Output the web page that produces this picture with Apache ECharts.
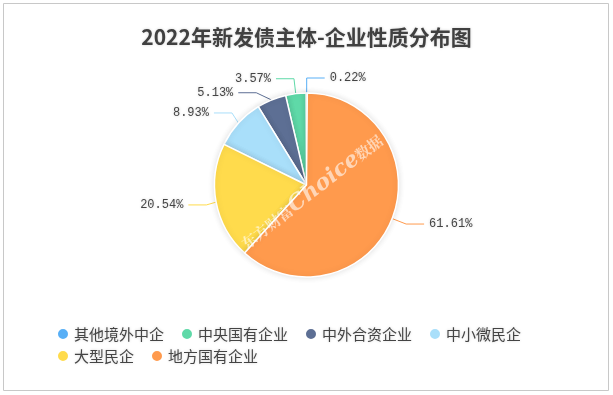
<!DOCTYPE html>
<html>
<head>
<meta charset="utf-8">
<script src="https://cdn.jsdelivr.net/npm/echarts@6/dist/echarts.min.js"></script>
<style>
html,body{margin:0;padding:0;background:#fff;}
#main{width:613px;height:395px;}
</style>
</head>
<body>
<div id="main"></div>
<script>
const titleText = '2022年新发债主体-企业性质分布图';
const categories = ['其他境外中企', '中央国有企业', '中外合资企业', '中小微民企', '大型民企', '地方国有企业'];
const values = [0.22, 3.57, 5.13, 8.93, 20.54, 61.61];
const colors = ['#58AFF6', '#5FD9A8', '#5D6F94', '#A9DFFA', '#FFDB4C', '#FF9A4D'];
const watermarkParts = ['东方财富', 'Choice', '数据'];

const chart = echarts.init(document.getElementById('main'), null, {renderer: 'canvas'});
const shadowText = {textShadowColor: 'rgba(0,0,0,0.18)', textShadowBlur: 3};

chart.setOption({
  backgroundColor: '#fff',
  animation: false,
  color: colors,
  title: {
    text: titleText,
    left: 'center',
    top: 22,
    textStyle: Object.assign({fontSize: 21, fontWeight: 'bold', color: '#404040',
      fontFamily: '"Noto Sans CJK SC", sans-serif'}, shadowText)
  },
  legend: {
    left: 51,
    top: 320,
    width: 520,
    icon: 'circle',
    itemWidth: 12,
    itemHeight: 12,
    itemGap: 4,
    textStyle: Object.assign({fontSize: 15, color: '#444', lineHeight: 18,
      padding: [0, 12, 0, 0],
      fontFamily: '"Noto Sans CJK SC", sans-serif'}, shadowText),
    data: categories
  },
  graphic: [
    {
      type: 'rect', z: -1, silent: true,
      shape: {x: 3.5, y: 3.5, width: 605, height: 387},
      style: {fill: 'none', stroke: '#c8c8c8', lineWidth: 1}
    },
    {
      type: 'text', z: 100, silent: true,
      x: 312, y: 192,
      rotation: 38 * Math.PI / 180,
      style: {
        text: '{a|' + watermarkParts[0] + '}{b|' + watermarkParts[1] + '}{a|' + watermarkParts[2] + '}',
        fill: 'rgba(255,255,255,0.6)',
        align: 'center',
        verticalAlign: 'middle',
        rich: {
          a: {fontSize: 15, fontWeight: 'bold', fontFamily: '"Noto Serif CJK SC", "Noto Sans CJK SC", serif',
              fill: 'rgba(255,255,255,0.6)'},
          b: {fontSize: 22, fontWeight: 'bold', fontStyle: 'italic', fontFamily: '"DejaVu Serif", "Liberation Serif", serif',
              fill: 'rgba(255,255,255,0.6)'}
        }
      }
    }
  ],
  series: [{
    type: 'pie',
    center: ['50%', 185],
    radius: 92,
    startAngle: 89.5,
    clockwise: false,
    avoidLabelOverlap: true,
    itemStyle: {borderColor: '#fff', borderWidth: 1.5, shadowColor: 'rgba(0,0,0,0.12)', shadowBlur: 6},
    label: Object.assign({
      show: true,
      formatter: p => p.value.toFixed(2) + '%',
      fontSize: 12,
      color: '#444',
      fontFamily: '"Liberation Mono", "DejaVu Sans Mono", monospace'
    }, shadowText),
    labelLine: {show: true, length: 15, length2: 18, lineStyle: {width: 1}},
    emphasis: {disabled: true},
    data: categories.map((c, i) => ({name: c, value: values[i]}))
  }]
});
</script>
</body>
</html>
